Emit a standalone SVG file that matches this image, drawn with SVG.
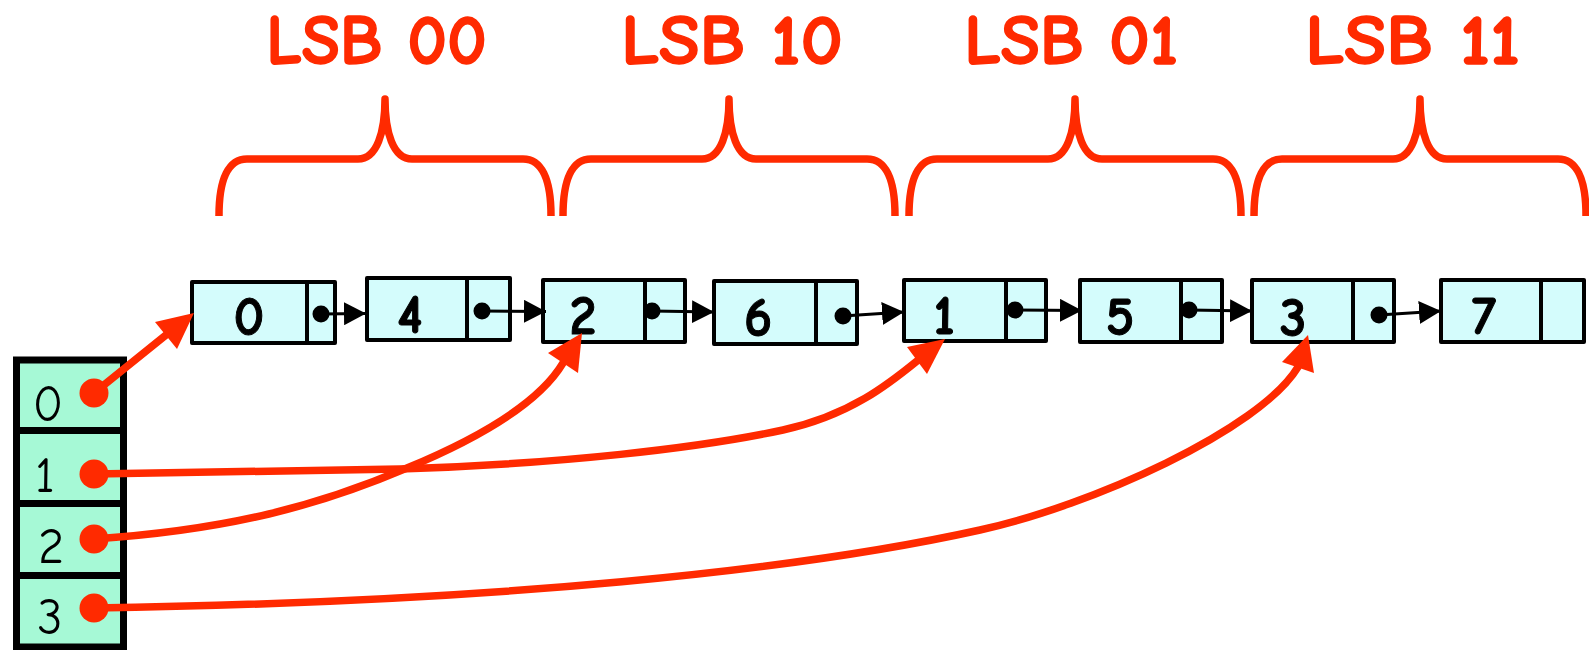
<svg xmlns="http://www.w3.org/2000/svg" width="1589" height="650" viewBox="0 0 1589 650">
  <style>
    .label { font-family: 'Comic Sans MS', 'Comic Neue', 'DejaVu Sans', sans-serif; font-weight: bold; font-size: 70px; fill: #ff2a00; stroke: #ff2a00; stroke-width: 1.5; }
    .brace { fill: none; stroke: #ff2a00; stroke-width: 7.5; stroke-linejoin: round; }
    .cell { fill: #d4fcfc; stroke: #000; stroke-width: 4; stroke-linejoin: round; }
    .div { stroke: #000; stroke-width: 4; }
    .val { font-family: 'Comic Sans MS', 'Comic Neue', 'DejaVu Sans', sans-serif; font-weight: bold; font-size: 54px; fill: #000; stroke: #000; stroke-width: 1; text-anchor: middle; }
    .ptr { fill: #000; }
    .link { stroke: #000; stroke-width: 3; fill: none; }
    .bucket { fill: #a6f9d6; stroke: #000; stroke-width: 7; }
    .bdiv { stroke: #000; stroke-width: 7; }
    .idx { font-family: 'Comic Sans MS', 'Comic Neue', 'DejaVu Sans', sans-serif; font-size: 50px; fill: #000; text-anchor: middle; }
    .ref { fill: none; stroke: #ff2a00; stroke-width: 7.5; stroke-linecap: round; stroke-linejoin: round; }
    .refdot, .refhead { fill: #ff2a00; }
  </style>
  <defs>
    <marker id="head" markerUnits="userSpaceOnUse" markerWidth="22" markerHeight="23" refX="22" refY="11.5" orient="auto">
      <path d="M0,0 L22,11.5 L0,23 Z" fill="#000"/>
    </marker>
  </defs>

  <!-- group labels -->
  <g id="labels">
    <text class="label" x="266" y="64" textLength="221" lengthAdjust="spacingAndGlyphs">LSB 00</text>
    <text class="label" x="621" y="64" textLength="222" lengthAdjust="spacingAndGlyphs">LSB 10</text>
    <text class="label" x="964" y="64" textLength="214" lengthAdjust="spacingAndGlyphs">LSB 01</text>
    <text class="label" x="1305" y="64" textLength="215" lengthAdjust="spacingAndGlyphs">LSB 11</text>
  </g>

  <!-- curly braces over each group -->
  <g id="braces">
    <path class="brace" d="M219,216 C219,178 229,159 247,159 L358,159 C377,159 385,132 385,99 C385,132 393,159 412,159 L523,159 C541,159 551,178 551,216"/>
    <path class="brace" d="M563,216 C563,178 573,159 591,159 L702,159 C721,159 729,132 729,99 C729,132 737,159 756,159 L867,159 C885,159 895,178 895,216"/>
    <path class="brace" d="M909,216 C909,178 919,159 937,159 L1048,159 C1067,159 1075,132 1075,99 C1075,132 1083,159 1102,159 L1213,159 C1231,159 1241,178 1241,216"/>
    <path class="brace" d="M1254,216 C1254,178 1264,159 1282,159 L1393,159 C1412,159 1420,132 1420,99 C1420,132 1428,159 1447,159 L1558,159 C1576,159 1586,178 1586,216"/>
  </g>

  <!-- list nodes -->
  <g id="node-0">
    <rect class="cell" x="192" y="282" width="143" height="61"/>
    <line class="div" x1="307" y1="282" x2="307" y2="343"/>
    <text class="val" x="249" y="335">0</text>
    <circle class="ptr" cx="321" cy="314" r="8.5"/>
  </g>
  <g id="node-4">
    <rect class="cell" x="367" y="278" width="143" height="62"/>
    <line class="div" x1="467" y1="278" x2="467" y2="340"/>
    <text class="val" x="410" y="333">4</text>
    <circle class="ptr" cx="482" cy="311" r="8.5"/>
  </g>
  <g id="node-2">
    <rect class="cell" x="543" y="280" width="142" height="62"/>
    <line class="div" x1="645" y1="280" x2="645" y2="342"/>
    <text class="val" x="583" y="334">2</text>
    <circle class="ptr" cx="652" cy="311" r="8.5"/>
  </g>
  <g id="node-6">
    <rect class="cell" x="714" y="281" width="143" height="63"/>
    <line class="div" x1="816" y1="281" x2="816" y2="344"/>
    <text class="val" x="758" y="336">6</text>
    <circle class="ptr" cx="843" cy="316" r="8.5"/>
  </g>
  <g id="node-1">
    <rect class="cell" x="904" y="280" width="142" height="61"/>
    <line class="div" x1="1006" y1="280" x2="1006" y2="341"/>
    <text class="val" x="944" y="334">1</text>
    <circle class="ptr" cx="1015" cy="310" r="8.5"/>
  </g>
  <g id="node-5">
    <rect class="cell" x="1080" y="280" width="142" height="62"/>
    <line class="div" x1="1181" y1="280" x2="1181" y2="342"/>
    <text class="val" x="1120" y="335">5</text>
    <circle class="ptr" cx="1189" cy="310" r="8.5"/>
  </g>
  <g id="node-3">
    <rect class="cell" x="1252" y="280" width="142" height="62"/>
    <line class="div" x1="1353" y1="280" x2="1353" y2="342"/>
    <text class="val" x="1293" y="336">3</text>
    <circle class="ptr" cx="1379" cy="315" r="8.5"/>
  </g>
  <g id="node-7">
    <rect class="cell" x="1441" y="280" width="143" height="62"/>
    <line class="div" x1="1541" y1="280" x2="1541" y2="342"/>
    <text class="val" x="1484" y="334">7</text>
  </g>

  <!-- bucket array -->
  <g id="buckets">
    <rect class="bucket" x="16.5" y="360" width="107" height="287"/>
    <line class="bdiv" x1="16.5" y1="430.5" x2="123.5" y2="430.5"/>
    <line class="bdiv" x1="16.5" y1="503.5" x2="123.5" y2="503.5"/>
    <line class="bdiv" x1="16.5" y1="575.5" x2="123.5" y2="575.5"/>
    <text class="idx" x="48" y="421">0</text>
    <text class="idx" x="45" y="492">1</text>
    <text class="idx" x="51" y="563">2</text>
    <text class="idx" x="50" y="634">3</text>
  </g>

  <!-- connectors -->
  <g id="connectors">
    <line class="link" x1="321" y1="314" x2="366" y2="313.5" marker-end="url(#head)"/>
    <line class="link" x1="482" y1="311" x2="546" y2="311.5" marker-end="url(#head)"/>
    <line class="link" x1="652" y1="311" x2="714" y2="312" marker-end="url(#head)"/>
    <line class="link" x1="843" y1="316" x2="904" y2="312" marker-end="url(#head)"/>
    <line class="link" x1="1015" y1="310" x2="1082" y2="310.5" marker-end="url(#head)"/>
    <line class="link" x1="1189" y1="310" x2="1252" y2="311" marker-end="url(#head)"/>
    <line class="link" x1="1379" y1="315" x2="1441" y2="311" marker-end="url(#head)"/>

    <!-- bucket heads -->
    <path class="ref" d="M94,393 L166,335"/>
    <polygon class="refhead" points="194,313 155,322 177,349"/>

    <path class="ref" d="M94,474 L400,469 C560,464 700,448 783,430 C850,415.5 890,383 917,361"/>
    <polygon class="refhead" points="945,339 907,347 927,374"/>

    <path class="ref" d="M94,539 C230,530 320,505 407,468 C460,446 535,410 563,363"/>
    <polygon class="refhead" points="582,333 548,353 578,373"/>

    <path class="ref" d="M94,608 C500,602 800,570 980,530 C1090,506 1260,430 1298,367"/>
    <polygon class="refhead" points="1308,335 1282,362 1314,373"/>

    <circle class="refdot" cx="94" cy="393" r="14.5"/>
    <circle class="refdot" cx="94" cy="474" r="14.5"/>
    <circle class="refdot" cx="94" cy="539" r="14.5"/>
    <circle class="refdot" cx="94" cy="608" r="14.5"/>
  </g>
</svg>
